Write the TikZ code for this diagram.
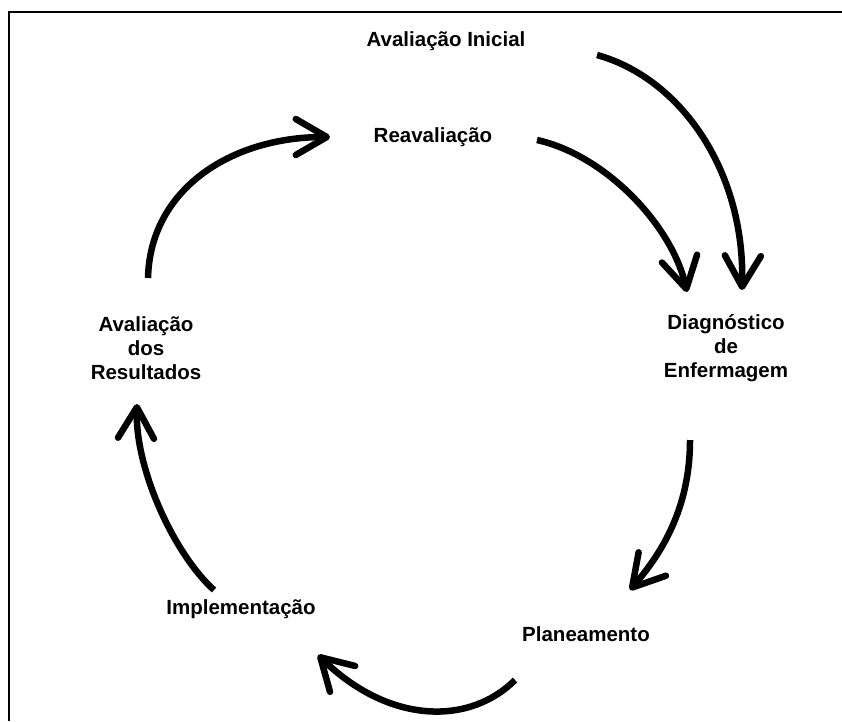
\documentclass[tikz,border=0pt]{standalone}
\usepackage{fontspec}
\setmainfont{Liberation Sans}
\usetikzlibrary{arrows.meta}
\begin{document}
\begin{tikzpicture}[x=1pt,y=-1pt,
  label/.style={font=\bfseries\fontsize{20.5}{24}\selectfont, align=center, inner sep=0pt},
  cycle/.style={line width=6.5pt,
    -{Straight Barb[length=31pt,width=36pt,line width=6.5pt,round]}},
  frame/.style={line width=2.5pt}]
  \useasboundingbox (0,0) rectangle (842,721);
  % open frame: top and left edges
  \draw[frame] (9,721) -- (9,12) -- (842,12);

  % stage labels
  \node[label] (ini)  at (446,41)  {Avaliação Inicial};
  \node[label] (reav) at (433,137) {Reavaliação};
  \node[label] (diag) at (726,348) {Diagnóstico\\de\\Enfermagem};
  \node[label] (plan) at (586,634) {Planeamento};
  \node[label] (impl) at (241,609) {Implementação};
  \node[label] (aval) at (146,348) {Avaliação\\dos\\Resultados};

  % arrow ends
  \coordinate (a0) at (597,55);  \coordinate (a1) at (742,290);
  \coordinate (b0) at (537,140); \coordinate (b1) at (687,292);
  \coordinate (c0) at (148,278); \coordinate (c1) at (330,137);
  \coordinate (d0) at (690,440); \coordinate (d1) at (630,590);
  \coordinate (e0) at (515,680); \coordinate (e1) at (318,655);
  \coordinate (f0) at (214,590); \coordinate (f1) at (137,404);

  % cycle arrows
  \draw[cycle] (a0) .. controls (680,78)  and (745,170) .. (a1);
  \draw[cycle] (b0) .. controls (605,155) and (672,225) .. (b1);
  \draw[cycle] (c0) .. controls (150,190) and (230,137) .. (c1);
  \draw[cycle] (d0) .. controls (690,510) and (660,555) .. (d1);
  \draw[cycle] (e0) .. controls (470,725) and (390,725) .. (e1);
  \draw[cycle] (f0) .. controls (175,555) and (135,470) .. (f1);
\end{tikzpicture}
\end{document}
